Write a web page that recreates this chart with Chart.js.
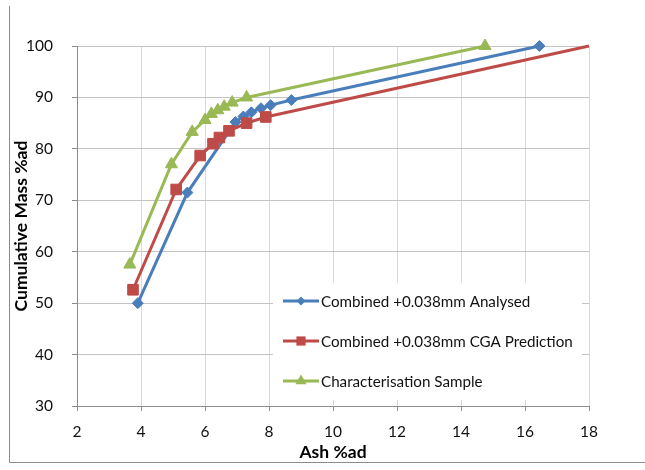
<!DOCTYPE html>
<html>
<head>
<meta charset="utf-8">
<script src="https://cdn.jsdelivr.net/npm/chart.js@4/dist/chart.umd.min.js"></script>
<style>
  html, body { margin: 0; padding: 0; background: #ffffff; }
  #wrap { width: 645px; height: 470px; position: relative; }
</style>
</head>
<body>
<div id="wrap"><canvas id="c" width="645" height="470"></canvas></div>
<script>
// ---- data ----
const seriesNames = [
  "Combined +0.038mm Analysed",
  "Combined +0.038mm CGA Prediction",
  "Characterisation Sample"
];
const analysedAsh  = [3.9, 5.45, 6.95, 7.2, 7.45, 7.75, 8.05, 8.7, 16.45];
const analysedMass = [50.0, 71.5, 85.2, 86.3, 87.1, 87.9, 88.5, 89.5, 100.0];
const cgaAsh  = [3.75, 5.1, 5.85, 6.25, 6.45, 6.75, 7.3, 7.9, 18.0];
const cgaMass = [52.6, 72.1, 78.7, 81.0, 82.2, 83.5, 85.0, 86.2, 100.0];
const charAsh  = [3.65, 4.95, 5.6, 6.0, 6.2, 6.4, 6.6, 6.85, 7.3, 14.75];
const charMass = [57.5, 77.0, 83.3, 85.6, 86.8, 87.5, 88.2, 89.0, 90.0, 100.0];
const xTicks = [2, 4, 6, 8, 10, 12, 14, 16, 18];
const yTicks = [30, 40, 50, 60, 70, 80, 90, 100];
const xTitle = "Ash %ad";
const yTitle = "Cumulative Mass %ad";

const colors = ["#4A7EBB", "#BE4B48", "#98B954"];
const styles = ["rectRot", "rect", "triangle"];

function pts(xs, ys) { return xs.map((x, i) => ({ x: x, y: ys[i] })); }

const FONT = "Lato, 'Liberation Sans', sans-serif";

// custom legend drawn inside the plot area
const innerLegend = {
  id: "innerLegend",
  afterDraw(chart) {
    const ctx = chart.ctx;
    const bx = 273, by = 283, bw = 309, bh = 117;
    ctx.save();
    ctx.fillStyle = "#ffffff";
    ctx.fillRect(bx, by, bw, bh);
    ctx.font = "15.2px " + FONT;
    ctx.textBaseline = "middle";
    ctx.textAlign = "left";
    const rowY = [301, 341, 381];
    const legR = [4.5, 6.5, 6.5];
    chart.data.datasets.forEach((ds, i) => {
      const y = rowY[i];
      ctx.strokeStyle = ds.borderColor;
      ctx.lineWidth = 3;
      ctx.beginPath();
      ctx.moveTo(283, y);
      ctx.lineTo(319, y);
      ctx.stroke();
      ctx.fillStyle = ds.borderColor;
      const cx = 301, r = legR[i];
      ctx.beginPath();
      if (styles[i] === "rectRot") {
        ctx.moveTo(cx, y - r); ctx.lineTo(cx + r, y); ctx.lineTo(cx, y + r); ctx.lineTo(cx - r, y);
      } else if (styles[i] === "rect") {
        const s = r * Math.SQRT1_2;
        ctx.rect(cx - s, y - s, 2 * s, 2 * s);
      } else {
        ctx.moveTo(cx, y - r);
        ctx.lineTo(cx + r * 0.866, y + r * 0.5);
        ctx.lineTo(cx - r * 0.866, y + r * 0.5);
      }
      ctx.closePath();
      ctx.fill();
      ctx.fillStyle = "#111111";
      ctx.fillText(ds.label, 321, y + 1);
    });
    // outer frame lines (left and bottom)
    ctx.strokeStyle = "#8c8c8c";
    ctx.lineWidth = 1;
    ctx.beginPath();
    ctx.moveTo(9.5, 6);
    ctx.lineTo(9.5, 462.5);
    ctx.lineTo(645, 462.5);
    ctx.stroke();
    ctx.restore();
  }
};

const lastIdx = cgaAsh.length - 1;

new Chart(document.getElementById("c"), {
  type: "scatter",
  data: {
    datasets: [
      {
        label: seriesNames[0], data: pts(analysedAsh, analysedMass),
        showLine: true, borderColor: colors[0], backgroundColor: colors[0],
        borderWidth: 3, pointStyle: styles[0], pointRadius: 5.5,
        pointBackgroundColor: colors[0], pointBorderColor: colors[0], pointBorderWidth: 1,
        order: 2, tension: 0, clip: false
      },
      {
        label: seriesNames[1], data: pts(cgaAsh, cgaMass),
        showLine: true, borderColor: colors[1], backgroundColor: colors[1],
        borderWidth: 3, pointStyle: styles[1],
        pointRadius: (c) => c.dataIndex === lastIdx ? 0 : 7.5,
        pointBackgroundColor: colors[1], pointBorderColor: colors[1], pointBorderWidth: 1,
        order: 1, tension: 0, clip: false
      },
      {
        label: seriesNames[2], data: pts(charAsh, charMass),
        showLine: true, borderColor: colors[2], backgroundColor: colors[2],
        borderWidth: 3, pointStyle: styles[2], pointRadius: 7,
        pointBackgroundColor: colors[2], pointBorderColor: colors[2], pointBorderWidth: 1,
        order: 0, tension: 0, clip: false
      }
    ]
  },
  options: {
    responsive: false,
    animation: false,
    layout: { padding: { left: 0, top: 46, right: 56, bottom: 0 } },
    plugins: {
      legend: { display: false },
      tooltip: { enabled: false }
    },
    scales: {
      x: {
        type: "linear",
        min: xTicks[0], max: xTicks[xTicks.length - 1],
        afterBuildTicks: (s) => { s.ticks = xTicks.map(v => ({ value: v })); },
        afterFit: (s) => { s.height = 64; },
        grid: { color: "#D9D9D9", tickColor: "#8c8c8c", tickLength: 5, lineWidth: 1 },
        border: { color: "#8c8c8c", width: 1 },
        ticks: { font: { family: FONT, size: 15.5 }, color: "#111111", padding: 12, maxRotation: 0 },
        title: {
          display: true, text: xTitle, color: "#000",
          font: { family: FONT, size: 17.5, weight: "bold" },
          padding: { top: 0, bottom: 7 }
        }
      },
      y: {
        type: "linear",
        min: yTicks[0], max: yTicks[yTicks.length - 1],
        afterBuildTicks: (s) => { s.ticks = yTicks.map(v => ({ value: v })); },
        afterFit: (s) => { s.width = 77; },
        grid: { color: "#C4C4C4", tickColor: "#8c8c8c", tickLength: 5, lineWidth: 1 },
        border: { color: "#8c8c8c", width: 1 },
        ticks: { font: { family: FONT, size: 15.5 }, color: "#111111", padding: 19 },
        title: {
          display: true, text: yTitle, color: "#000",
          font: { family: FONT, size: 17.5, weight: "bold" },
          padding: { top: 11, bottom: 0 }
        }
      }
    }
  },
  plugins: [innerLegend]
});
</script>
</body>
</html>
